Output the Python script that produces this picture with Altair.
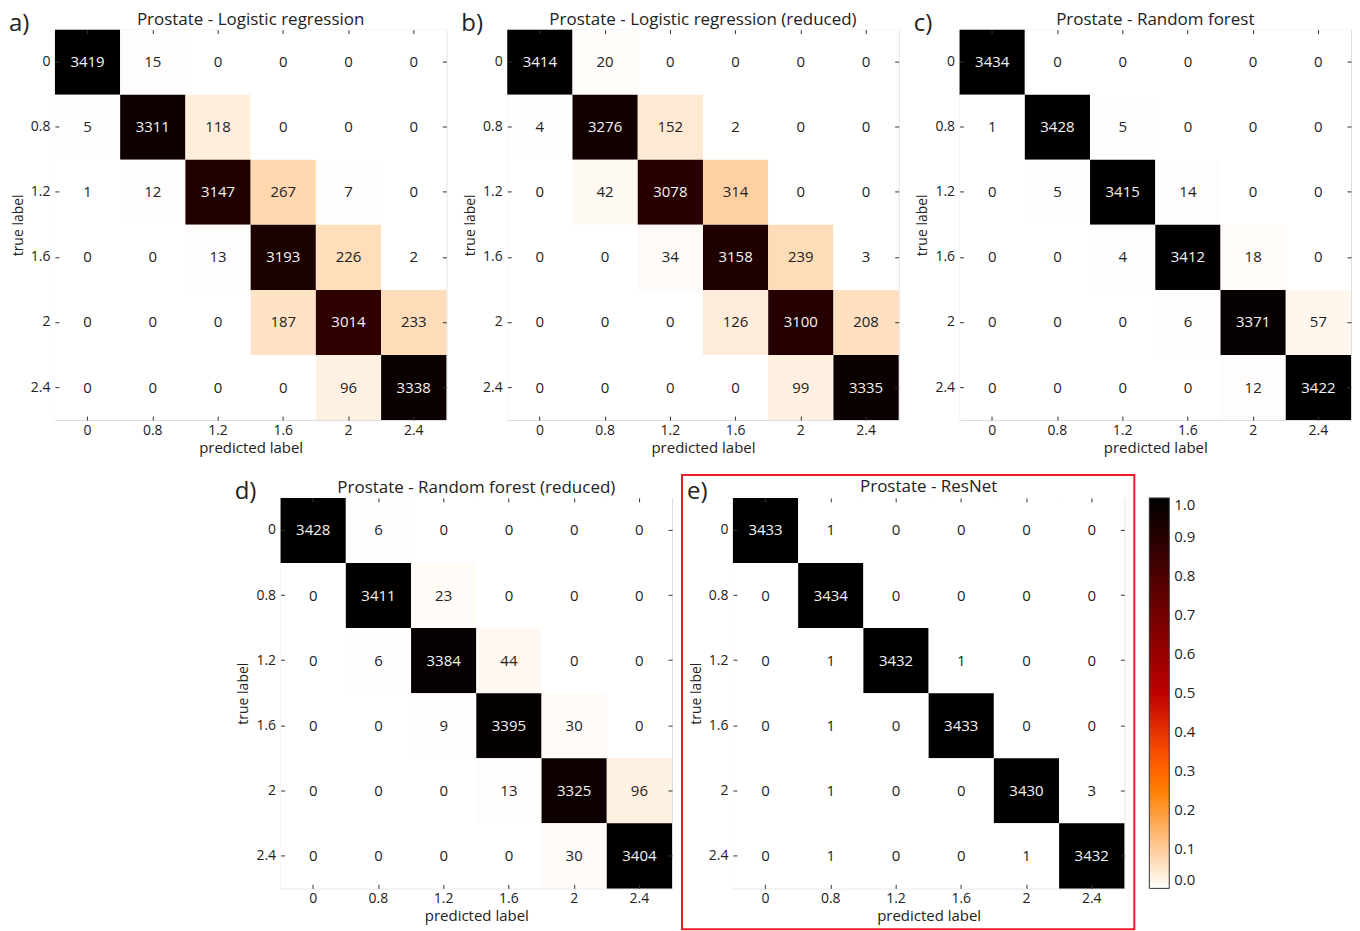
import altair as alt
import pandas as pd

# ---- data ----
labels = ["0", "0.8", "1.2", "1.6", "2", "2.4"]
titles = [
    "Prostate - Logistic regression",
    "Prostate - Logistic regression (reduced)",
    "Prostate - Random forest",
    "Prostate - Random forest (reduced)",
    "Prostate - ResNet",
]
letters = ["a)", "b)", "c)", "d)", "e)"]

cm_logreg = [
    [3419, 15, 0, 0, 0, 0],
    [5, 3311, 118, 0, 0, 0],
    [1, 12, 3147, 267, 7, 0],
    [0, 0, 13, 3193, 226, 2],
    [0, 0, 0, 187, 3014, 233],
    [0, 0, 0, 0, 96, 3338],
]
cm_logreg_red = [
    [3414, 20, 0, 0, 0, 0],
    [4, 3276, 152, 2, 0, 0],
    [0, 42, 3078, 314, 0, 0],
    [0, 0, 34, 3158, 239, 3],
    [0, 0, 0, 126, 3100, 208],
    [0, 0, 0, 0, 99, 3335],
]
cm_rf = [
    [3434, 0, 0, 0, 0, 0],
    [1, 3428, 5, 0, 0, 0],
    [0, 5, 3415, 14, 0, 0],
    [0, 0, 4, 3412, 18, 0],
    [0, 0, 0, 6, 3371, 57],
    [0, 0, 0, 0, 12, 3422],
]
cm_rf_red = [
    [3428, 6, 0, 0, 0, 0],
    [0, 3411, 23, 0, 0, 0],
    [0, 6, 3384, 44, 0, 0],
    [0, 0, 9, 3395, 30, 0],
    [0, 0, 0, 13, 3325, 96],
    [0, 0, 0, 0, 30, 3404],
]
cm_resnet = [
    [3433, 1, 0, 0, 0, 0],
    [0, 3434, 0, 0, 0, 0],
    [0, 1, 3432, 1, 0, 0],
    [0, 1, 0, 3433, 0, 0],
    [0, 1, 0, 0, 3430, 3],
    [0, 1, 0, 0, 1, 3432],
]
colorbar_ticks = [0.0, 0.1, 0.2, 0.3, 0.4, 0.5, 0.6, 0.7, 0.8, 0.9, 1.0]

# gist_heat_r colour map stops
cmap_domain = [0, 0.25, 1 / 3, 0.5, 1]
cmap_range = ["#ffffff", "#ff8000", "#ff5500", "#bf0000", "#000000"]

FONT = "Open Sans"
TXT = "#222222"
W, H = 392, 391


def make_df(cm):
    rows = []
    for i, t in enumerate(labels):
        s = sum(cm[i])
        for j, p in enumerate(labels):
            rows.append({"true": t, "pred": p, "count": cm[i][j], "norm": cm[i][j] / s})
    return pd.DataFrame(rows)


one = pd.DataFrame({"k": [0]})
xscale = alt.Scale(domain=labels, paddingInner=0, paddingOuter=0)
yscale = alt.Scale(domain=labels, paddingInner=0, paddingOuter=0)


def tick_axis(orient):
    return alt.Axis(orient=orient, labels=False, title=None, ticks=True, tickSize=4,
                    offset=-4, domain=False, grid=False, tickColor="#333333", tickWidth=1)


def panel(cm, title, letter, legend=False, box=False, title_offset=-17):
    df = make_df(cm)
    base = alt.Chart(df)
    if legend:
        leg = alt.Legend(orient="none", legendX=417, legendY=0, title=None,
                         direction="vertical", gradientLength=H, gradientThickness=20,
                         gradientStrokeColor="#333333", gradientStrokeWidth=1,
                         values=colorbar_ticks, format=".1f", labelFontSize=15,
                         labelColor=TXT, labelOffset=5, labelOverlap=False,
                         labelBaseline="middle", labelFont=FONT, padding=0)
    else:
        leg = None
    rect = base.mark_rect().encode(
        x=alt.X("pred:N", sort=labels, scale=xscale,
                axis=alt.Axis(orient="bottom", title="predicted label", labelAngle=0,
                              ticks=False, domain=False, grid=False, labelPadding=3,
                              labelFontSize=14, titleFontSize=15, titleFontWeight="normal",
                              titlePadding=3, labelColor=TXT, titleColor=TXT)),
        y=alt.Y("true:N", sort=labels, scale=yscale,
                axis=alt.Axis(orient="left", title="true label", ticks=False, domain=False,
                              grid=False, labelPadding=5, labelFontSize=14, titleFontSize=14,
                              titleFontWeight="normal", titlePadding=5, labelColor=TXT,
                              titleColor=TXT)),
        color=alt.Color("norm:Q", scale=alt.Scale(domain=cmap_domain, range=cmap_range,
                                                  interpolate="rgb", clamp=True),
                        legend=leg),
    )
    ticks1 = base.mark_rect(opacity=0).encode(
        x=alt.X("pred:N", sort=labels, scale=xscale, axis=tick_axis("top")),
        y=alt.Y("true:N", sort=labels, scale=yscale, axis=tick_axis("right")),
    )
    ticks2 = base.mark_rect(opacity=0).encode(
        x=alt.X("pred:N", sort=labels, scale=xscale, axis=tick_axis("bottom")),
        y=alt.Y("true:N", sort=labels, scale=yscale, axis=tick_axis("left")),
    )
    text = base.mark_text(fontSize=15, font=FONT).encode(
        x=alt.X("pred:N", sort=labels, scale=xscale, axis=None),
        y=alt.Y("true:N", sort=labels, scale=yscale, axis=None),
        text="count:Q",
        color=alt.condition("datum.norm > 0.5", alt.value("#f4f4f4"), alt.value(TXT)),
    )
    lab = alt.Chart(one).mark_text(text=letter, fontSize=24, font=FONT, align="left",
                                   baseline="alphabetic", color=TXT).encode(
        x=alt.value(-46), y=alt.value(1))
    layers = [rect, ticks1, ticks2, text, lab]
    if box:
        layers.append(alt.Chart(one).mark_rect(fillOpacity=0, stroke="#ee1c24", strokeWidth=2).encode(
            x=alt.value(-51), x2=alt.value(402), y=alt.value(-23), y2=alt.value(432)))
    return alt.layer(*layers).resolve_axis(x="independent", y="independent").properties(
        width=W, height=H,
        title=alt.Title(title, fontSize=17, fontWeight="normal", font=FONT, color=TXT,
                        offset=title_offset),
    )


spacer = alt.Chart(one).mark_point(opacity=0).encode(
    x=alt.value(0), y=alt.value(0)).properties(
    width=165, height=10, view=alt.ViewBackground(stroke="transparent"))

pa = panel(cm_logreg, titles[0], letters[0])
pb = panel(cm_logreg_red, titles[1], letters[1])
pc = panel(cm_rf, titles[2], letters[2])
pd_ = panel(cm_rf_red, titles[3], letters[3])
pe = panel(cm_resnet, titles[4], letters[4], legend=True, box=True, title_offset=-22)

top_row = alt.hconcat(pa, pb, pc, spacing=61, bounds="flush").resolve_scale(color="independent")
bottom_row = alt.hconcat(spacer, pd_, pe, spacing=61, bounds="flush").resolve_scale(color="independent")

chart = alt.vconcat(top_row, bottom_row, spacing=17).properties(
    padding={"left": 0, "top": 1, "right": 0, "bottom": 0}
).resolve_scale(color="independent").configure_view(
    stroke="#333333", strokeWidth=1
).configure(font=FONT, background="white")

chart.save("out.html", embed_options={"renderer": "svg", "actions": False})
